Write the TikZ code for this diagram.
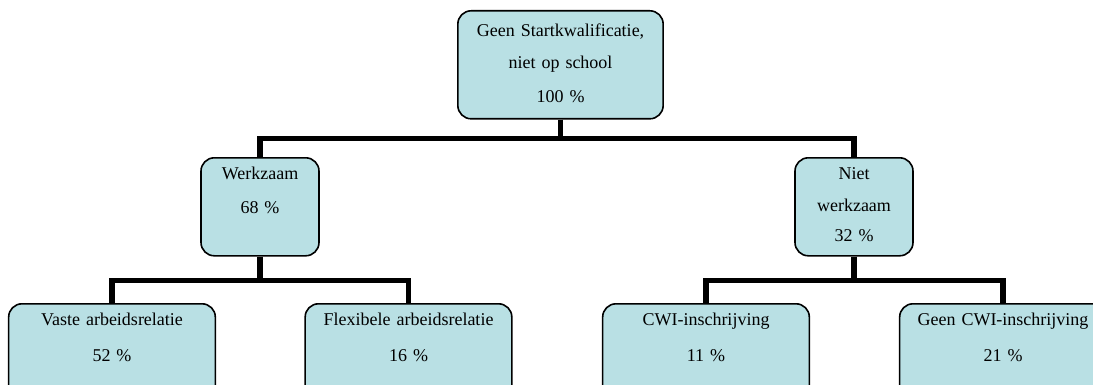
\documentclass[tikz,border=0pt]{standalone}
\usepackage{fontspec}
\setmainfont{Liberation Serif}
\definecolor{boxblue}{RGB}{185,224,228}

\begin{document}
\begin{tikzpicture}[
    x=0.75pt,
    y=-0.75pt,
    font=\fontsize{13.5}{24}\selectfont,
    group/.style={
        rectangle,
        draw,
        line width=1.2pt,
        rounded corners=10pt,
        fill=boxblue,
        anchor=north,
        inner sep=0pt,
        align=center,
        text height=16.5pt,
        text depth=57pt
    },
    root/.style={
        group,
        text width=154pt,
        text height=19.5pt,
        text depth=61.5pt
    },
    branch/.style={
        group,
        text width=88.5pt
    },
    leaf/.style={
        group,
        text width=155pt
    },
    conn/.style={
        line width=4pt
    }
]
    \useasboundingbox (0,0) rectangle (1093,385);

    % Top
    \node[root] (start) at (560.5,10) {Geen Startkwalificatie,\\niet op school\\[1pt]100 \%};

    % Second level
    \node[branch] (werk) at (260,157) {Werkzaam\\[1.5pt]68 \%};
    \node[branch] (niet) at (854,157) {Niet\\werkzaam\\[-2pt]32 \%};

    % Third level
    \node[leaf] (vaste) at (112,303) {Vaste arbeidsrelatie\\[2.5pt]52 \%};
    \node[leaf] (flex) at (408.5,303) {Flexibele arbeidsrelatie\\[2.5pt]16 \%};
    \node[leaf] (cwi) at (706,303) {CWI-inschrijving\\[2.5pt]11 \%};
    \node[leaf] (geencwi) at (1003,303) {Geen CWI-inschrijving\\[2.5pt]21 \%};

    % Connections
    \draw[conn] (start.south) -- ++(0,19) -| (werk.north);
    \draw[conn] (start.south) -- ++(0,19) -| (niet.north);
    \draw[conn] (werk.south) -- ++(0,24) -| (vaste.north);
    \draw[conn] (werk.south) -- ++(0,24) -| (flex.north);
    \draw[conn] (niet.south) -- ++(0,24) -| (cwi.north);
    \draw[conn] (niet.south) -- ++(0,24) -| (geencwi.north);

\end{tikzpicture}
\end{document}
